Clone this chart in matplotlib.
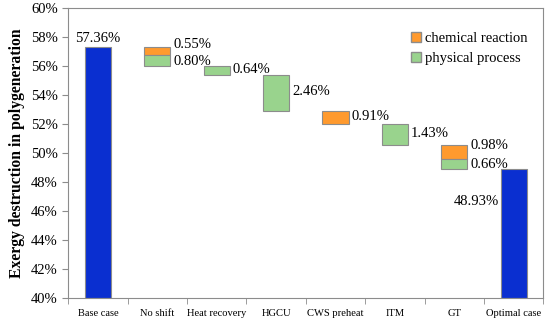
import numpy as np
import matplotlib.pyplot as plt
from matplotlib.ticker import FuncFormatter
from matplotlib.patches import Patch

plt.rcParams['font.family'] = ['Liberation Serif', 'DejaVu Serif']

categories = ['Base case', 'No shift', 'Heat recovery', 'HGCU', 'CWS preheat', 'ITM', 'GT', 'Optimal case']
base_value = 57.36
optimal_value = 48.93
# decrease of exergy destruction in each step (percentage points)
chemical = [0, 0.55, 0, 0, 0.91, 0, 0.98, 0]
physical = [0, 0.80, 0.64, 2.46, 0, 1.43, 0.66, 0]

blue = '#0a2fd0'
orange = '#ff9a2e'
green = '#99d38d'
edge = '#8c8c8c'

fig, ax = plt.subplots(figsize=(5.5, 3.22), dpi=100)
fig.subplots_adjust(left=0.124, right=0.988, top=0.974, bottom=0.075)

x = np.arange(len(categories))
w = 0.44

ax.bar(x[0], base_value - 40, bottom=40, width=w, color=blue, edgecolor=edge, linewidth=0.8)
ax.bar(x[-1], optimal_value - 40, bottom=40, width=w, color=blue, edgecolor=edge, linewidth=0.8)

level = base_value
for i in range(1, len(categories) - 1):
    c = chemical[i]
    p = physical[i]
    if c > 0:
        ax.bar(x[i], c, bottom=level - c, width=w, color=orange, edgecolor=edge, linewidth=0.8)
        dy = 0.45 if p > 0 else 0.1
        ax.text(x[i] + w / 2 + 0.05, level - c / 2 + dy, f'{c:.2f}%', fontsize=10.5,
                ha='left', va='center')
        level -= c
    if p > 0:
        ax.bar(x[i], p, bottom=level - p, width=w, color=green, edgecolor=edge, linewidth=0.8)
        dy = -0.05 if c > 0 else 0.1
        ax.text(x[i] + w / 2 + 0.05, level - p / 2 + dy, f'{p:.2f}%', fontsize=10.5,
                ha='left', va='center')
        level -= p

ax.text(x[0], base_value + 0.1, f'{base_value:.2f}%', fontsize=10.5, ha='center', va='bottom')
ax.text(x[-1] - w / 2 - 0.03, optimal_value - 2.3, f'{optimal_value:.2f}%', fontsize=10.5,
        ha='right', va='center')

ax.set_ylim(40, 60)
ax.set_xlim(-0.5, len(categories) - 0.5)
ax.set_yticks(np.arange(40, 61, 2))
ax.yaxis.set_major_formatter(FuncFormatter(lambda v, _: f'{v:.0f}%'))
ax.set_xticks(x)
ax.set_xticklabels(categories, fontsize=7.6)
ax.set_xticks(np.arange(-0.5, len(categories), 1), minor=True)
ax.tick_params(axis='x', which='major', length=0, pad=8)
ax.tick_params(axis='x', which='minor', length=4, color=edge, direction='out')
ax.tick_params(axis='y', labelsize=10.5, length=4, color=edge)
ax.set_ylabel('Exergy destruction in polygeneration', fontsize=11.3, fontweight='bold')

for s in ax.spines.values():
    s.set_color(edge)
    s.set_linewidth(0.8)

handles = [Patch(facecolor=orange, edgecolor=edge, label='chemical reaction'),
           Patch(facecolor=green, edgecolor=edge, label='physical process')]
ax.legend(handles=handles, loc='upper right', bbox_to_anchor=(0.995, 0.965), frameon=False,
          fontsize=10.5, handlelength=0.7, handleheight=0.7, handletextpad=0.3,
          labelspacing=0.5)

fig.savefig('out.png')
